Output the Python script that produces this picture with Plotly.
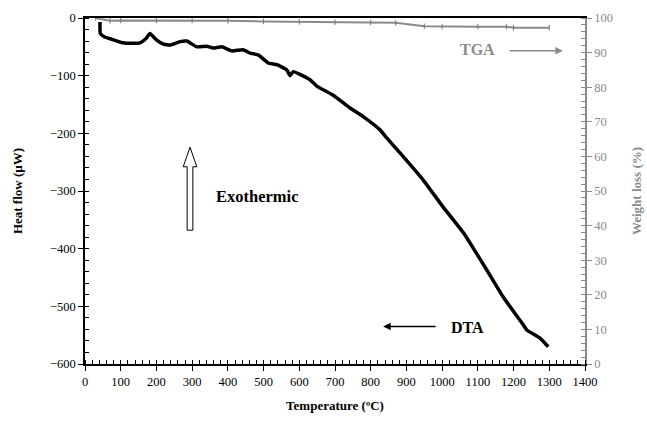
import plotly.graph_objects as go

# DTA heat flow curve
dta_temp = [42, 43, 55, 70, 90, 106, 130, 154, 170, 182, 200, 218, 238, 266, 285,
            313, 341, 359, 383, 411, 443, 462, 485, 513, 537, 565, 574, 583, 630,
            649, 695, 742, 779, 826, 845, 882, 947, 1003, 1060, 1087, 1125, 1170,
            1227, 1237, 1274, 1297]
dta_heat = [-7, -27, -33, -36, -40, -43, -44, -43, -36, -27, -38, -45, -47, -41, -40,
            -50, -49, -52, -50, -57, -55, -61, -64, -78, -81, -90, -100, -93, -107,
            -118, -134, -156, -171, -194, -208, -234, -281, -328, -373, -399, -437,
            -483, -532, -541, -555, -570]

# TGA weight curve
tga_temp = [30, 70, 100, 200, 300, 400, 500, 600, 700, 800, 870, 950, 1000, 1100,
            1180, 1200, 1300]
tga_weight = [100, 99.2, 99.3, 99.3, 99.3, 99.2, 99.0, 98.9, 98.8, 98.7, 98.6,
              97.6, 97.5, 97.5, 97.5, 97.2, 97.2]

FONT = "Liberation Serif, Times New Roman, serif"
GRAY = "#8a8a8a"

fig = go.Figure()
fig.add_trace(go.Scatter(x=tga_temp, y=tga_weight, mode="lines+markers", yaxis="y2",
                         line=dict(color=GRAY, width=2),
                         marker=dict(symbol="line-ns", size=4,
                                     line=dict(color="#777777", width=1)),
                         showlegend=False, hoverinfo="skip"))
fig.add_trace(go.Scatter(x=dta_temp, y=dta_heat, mode="lines",
                         line=dict(color="black", width=3.5, shape="spline",
                                   smoothing=0.4),
                         showlegend=False, hoverinfo="skip"))

tickfont = dict(family=FONT, size=12.5, color="black")
xcommon = dict(range=[0, 1400], dtick=100, tick0=0, showgrid=False, zeroline=False)

fig.update_layout(
    width=647, height=423,
    margin=dict(l=85, r=62, t=18, b=59),
    paper_bgcolor="white", plot_bgcolor="white",
    font=dict(family=FONT, color="black"),
    xaxis=dict(**xcommon, ticks="outside", ticklen=5, tickwidth=1,
               tickcolor="black", linecolor="black", linewidth=1.5,
               showline=True, mirror=True, tickfont=tickfont, automargin=False,
               minor=dict(dtick=20, ticks="inside", ticklen=4, tickcolor="black"),
               title=dict(text="<b>Temperature (ºC)</b>", standoff=13,
                          font=dict(family=FONT, size=13))),
    xaxis3=dict(**xcommon, overlaying="x", ticks="inside", ticklen=5,
                tickcolor="black", showticklabels=False, showline=False),
    yaxis=dict(range=[-600, 0], dtick=100, showgrid=False, zeroline=False,
               ticks="outside", ticklen=5, tickcolor="black", linecolor="black",
               linewidth=1.5, showline=True, tickfont=tickfont, automargin=False,
               minor=dict(dtick=20, ticks="inside", ticklen=4, tickcolor="black"),
               title=dict(text="<b>Heat flow (µW)</b>", standoff=24,
                          font=dict(family=FONT, size=13))),
    yaxis3=dict(range=[-600, 0], dtick=100, overlaying="y", side="left",
                showgrid=False, zeroline=False, ticks="inside", ticklen=5,
                tickcolor="black", showticklabels=False, showline=False),
    yaxis2=dict(range=[0, 100], dtick=10, overlaying="y", side="right",
                showgrid=False, zeroline=False, ticks="outside", ticklen=5,
                tickcolor=GRAY, linecolor=GRAY, linewidth=1.5, showline=True,
                tickfont=dict(family=FONT, size=12.5, color=GRAY), automargin=False,
                minor=dict(dtick=2, ticks="inside", ticklen=4, tickcolor=GRAY),
                title=dict(text="<b>Weight loss (%)</b>", standoff=20,
                           font=dict(family=FONT, size=13, color=GRAY))),
    yaxis4=dict(range=[0, 100], dtick=10, overlaying="y", side="right",
                showgrid=False, zeroline=False, ticks="inside", ticklen=5,
                tickcolor=GRAY, showticklabels=False, showline=False),
)

# hollow "exothermic" arrow
ax, hw, hh = 294, 8, 19
fig.add_shape(type="path", xref="x", yref="y",
              path=(f"M {ax-hw} -368 L {ax+hw} -368 L {ax+hw} -258 L {ax+hh} -258 "
                    f"L {ax} -224 L {ax-hh} -258 L {ax-hw} -258 Z"),
              line=dict(color="black", width=1), fillcolor="white")

fig.add_annotation(x=482, y=-310, xref="x", yref="y", text="<b>Exothermic</b>",
                   showarrow=False, font=dict(family=FONT, size=16.5, color="black"))

# curve labels with arrows
fig.add_annotation(x=1070, y=-536, xref="x", yref="y", text="<b>DTA</b>",
                   showarrow=False, font=dict(family=FONT, size=16, color="black"))
fig.add_annotation(x=835, y=-535, ax=986, ay=-535, xref="x", yref="y",
                   axref="x", ayref="y", text="", showarrow=True, arrowhead=2,
                   arrowsize=1, arrowwidth=1.5, arrowcolor="black")

fig.add_annotation(x=1100, y=91, xref="x", yref="y2", text="<b>TGA</b>",
                   showarrow=False, font=dict(family=FONT, size=16, color=GRAY))
fig.add_annotation(x=1338, y=90.5, ax=1185, ay=90.5, xref="x", yref="y2",
                   axref="x", ayref="y2", text="", showarrow=True, arrowhead=2,
                   arrowsize=1, arrowwidth=1.5, arrowcolor=GRAY)

fig.write_html("out.html")
